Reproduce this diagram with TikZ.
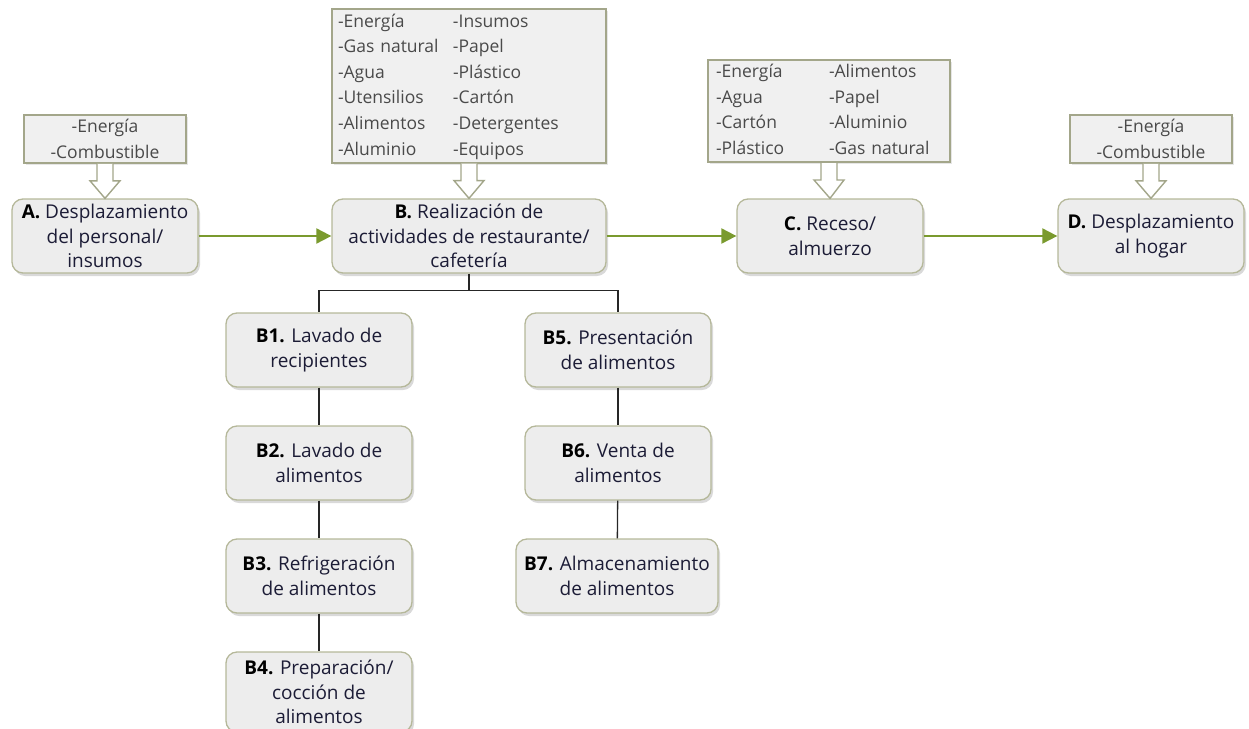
\documentclass[tikz,border=0pt]{standalone}
\usepackage{fontspec}
\setmainfont{Open Sans}
\usetikzlibrary{arrows.meta,shadows,positioning}
\definecolor{procline}{HTML}{B5B89A}
\definecolor{procfill}{HTML}{EDEDED}
\definecolor{proctext}{HTML}{1C1C36}
\definecolor{inpline}{HTML}{A3A68A}
\definecolor{inpfill}{HTML}{F0F0F0}
\definecolor{inptext}{HTML}{4A4A4A}
\definecolor{flowgreen}{HTML}{7A9A2E}
\tikzset{
  proc/.style={draw=procline,line width=1.3pt,fill=procfill,rounded corners=11pt,
    minimum width=186pt,minimum height=74pt,align=center,inner sep=2pt,
    text=proctext,font=\fontsize{19}{24.5}\selectfont,
    drop shadow={shadow xshift=2pt,shadow yshift=-3pt,opacity=.3}},
  inp/.style={draw=inpline,line width=1.6pt,fill=inpfill,text=inptext,
    font=\fontsize{17.5}{25.6}\selectfont,inner sep=0pt,
    drop shadow={shadow xshift=2pt,shadow yshift=-2pt,opacity=.2}},
  feed/.style={draw=inpline,line width=1.4pt,fill=white,line join=miter},
  flow/.style={flowgreen,line width=2pt,-{Triangle[length=15pt,width=15pt]}},
  tree/.style={black!85,line width=1.3pt}
}
\newcommand\feedarrow[2]{%
  \draw[feed] ([xshift=-8pt]#1.south) -- ([xshift=-8pt,yshift=-17pt]#1.south)
    -- ([xshift=-15pt,yshift=-17pt]#1.south) -- (#2.north)
    -- ([xshift=15pt,yshift=-17pt]#1.south) -- ([xshift=8pt,yshift=-17pt]#1.south)
    -- ([xshift=8pt]#1.south);}
\newcommand\lbl[1]{\textbf{\color{black}#1}}

\begin{document}
\begin{tikzpicture}[x=1pt,y=-1pt]
  \useasboundingbox (0,0) rectangle (1249,728);

  \node[proc] (A) at (105,236) {\lbl{A.} Desplazamiento\\del personal/\\insumos};
  \node[proc,minimum width=274pt] (B) at (469,236) {\lbl{B.} Realización de\\actividades de restaurante/\\cafetería};
  \node[proc] (C) at (830,236) {\lbl{C.} Receso/\\almuerzo};
  \node[proc] (D) at (1151,236) {\lbl{D.} Desplazamiento\\al hogar};

  \node[inp,minimum width=162pt,minimum height=48pt,align=center] (inA) at (105,139)
    {-Energía\\-Combustible};
  \node[inp,minimum width=274pt,minimum height=152pt,text width=262pt,align=left] (inB) at (469,86)
    {\begin{tabular}{@{}p{115pt}@{}l@{}}
      -Energía & -Insumos\\ -Gas natural & -Papel\\ -Agua & -Plástico\\
      -Utensilios & -Cartón\\ -Alimentos & -Detergentes\\ -Aluminio & -Equipos
    \end{tabular}};
  \node[inp,minimum width=242pt,minimum height=102pt,text width=226pt,align=left] (inC) at (829,111)
    {\begin{tabular}{@{}p{113pt}@{}l@{}}
      -Energía & -Alimentos\\ -Agua & -Papel\\ -Cartón & -Aluminio\\ -Plástico & -Gas natural
    \end{tabular}};
  \node[inp,minimum width=162pt,minimum height=48pt,align=center] (inD) at (1151,139)
    {-Energía\\-Combustible};

  \feedarrow{inA}{A}
  \feedarrow{inB}{B}
  \feedarrow{inC}{C}
  \feedarrow{inD}{D}

  \draw[flow] (A) -- (B);
  \draw[flow] (B) -- (C);
  \draw[flow] (C) -- (D);

  \node[proc] (B1) at (319,350) {\lbl{B1.} Lavado de\\recipientes};
  \node[proc] (B2) at (319,463) {\lbl{B2.} Lavado de\\alimentos};
  \node[proc] (B3) at (319,576) {\lbl{B3.} Refrigeración\\de alimentos};
  \node[proc,minimum height=80pt] (B4) at (319,692) {\lbl{B4.} Preparación/\\cocción de\\alimentos};
  \node[proc] (B5) at (618,350) {\lbl{B5.} Presentación\\de alimentos};
  \node[proc] (B6) at (618,463) {\lbl{B6.} Venta de\\alimentos};
  \node[proc,minimum width=202pt] (B7) at (617,576) {\lbl{B7.} Almacenamiento\\de alimentos};

  \draw[tree] (B.south) -- ++(0,17) coordinate (fork) -| (B1.north);
  \draw[tree] (fork) -| (B5.north);
  \draw[tree] (B1) -- (B2);
  \draw[tree] (B2) -- (B3);
  \draw[tree] (B3) -- (B4);
  \draw[tree] (B5) -- (B6);
  \draw[tree] (B6) -- (B7);
\end{tikzpicture}
\end{document}
